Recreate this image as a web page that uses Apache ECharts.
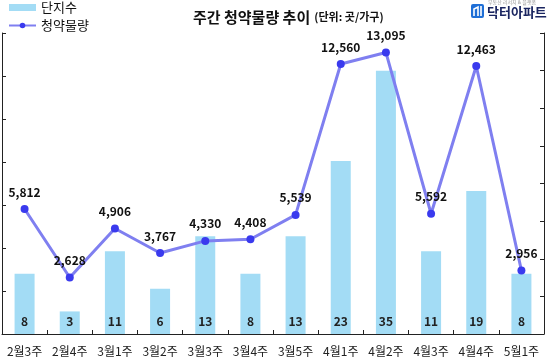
<!DOCTYPE html>
<html><head><meta charset="utf-8">
<script src="https://cdn.jsdelivr.net/npm/echarts@6/dist/echarts.min.js"></script>
<style>html,body{margin:0;padding:0;background:#fff}#c{width:548px;height:359px}</style>
</head><body><div id="c"></div>
<script>
const categories = ['2월3주','2월4주','3월1주','3월2주','3월3주','3월4주','3월5주','4월1주','4월2주','4월3주','4월4주','5월1주'];
const complexCount = [8, 3, 11, 6, 13, 8, 13, 23, 35, 11, 19, 8];
const supplyUnits = [5812, 2628, 4906, 3767, 4330, 4408, 5539, 12560, 13095, 5592, 12463, 2956];
const FONT = '"Noto Sans CJK KR", "Noto Sans", sans-serif';
const chart = echarts.init(document.getElementById('c'));
const axisCommon = {
  axisLine: {show: true, lineStyle: {color: '#222', width: 1}},
  axisTick: {show: true, inside: true, length: 4, lineStyle: {color: '#222'}},
  axisLabel: {show: false},
  splitLine: {show: false}
};
chart.setOption({
  animation: false,
  textStyle: {fontFamily: FONT},
  title: {
    text: '{a|주간 청약물량 추이} {b|(단위: 곳/가구)}',
    left: 188, top: 3,
    textStyle: {rich: {
      a: {fontSize: 15, fontWeight: 'bold', color: '#111', fontFamily: FONT},
      b: {fontSize: 11, color: '#111', fontFamily: FONT}
    }}
  },
  legend: {
    orient: 'vertical', left: 3, top: -4, itemWidth: 27, itemHeight: 7, itemGap: 5,
    textStyle: {fontSize: 13, color: '#111', fontFamily: FONT},
    data: [{name: '단지수', icon: 'rect'}, {name: '청약물량'}]
  },
  grid: {left: 2, right: 4, top: 33, bottom: 25, containLabel: false},
  xAxis: {
    type: 'category', data: categories, boundaryGap: true,
    axisLine: {lineStyle: {color: '#222'}},
    axisTick: {show: true, inside: true, length: 4, lineStyle: {color: '#222'}},
    axisLabel: {fontSize: 12, color: '#222', margin: 11, interval: 0, fontFamily: FONT}
  },
  yAxis: [
    Object.assign({type: 'value', min: 0, max: 14000, interval: 2000, position: 'left'}, axisCommon),
    Object.assign({type: 'value', min: 0, max: 40, interval: 5, position: 'right'}, axisCommon)
  ],
  series: [
    {
      name: '단지수', type: 'bar', yAxisIndex: 1, data: complexCount, barWidth: 20,
      itemStyle: {color: '#a3dcf5'},
      label: {show: true, position: 'insideBottom', distance: 7, fontSize: 12, fontWeight: 'bold', color: '#222', fontFamily: FONT}
    },
    {
      name: '청약물량', type: 'line', yAxisIndex: 0, data: supplyUnits,
      symbol: 'circle', symbolSize: 8,
      itemStyle: {color: '#3a3aee'},
      lineStyle: {color: '#7f7ff0', width: 3},
      label: {show: true, position: 'top', distance: 7, fontSize: 12, fontWeight: 'bold', color: '#111', fontFamily: FONT,
        formatter: p => p.value.toLocaleString('en-US')}
    }
  ],
  graphic: [
    {type: 'rect', shape: {x: 471, y: 4, width: 13, height: 14, r: 2}, style: {fill: '#1f6fd6'}},
    {type: 'polyline', shape: {points: [[474,16],[474,9],[478,7],[478,16]]}, style: {stroke: '#fff', lineWidth: 1.6, fill: null}},
    {type: 'line', shape: {x1: 481, y1: 6, x2: 481, y2: 16}, style: {stroke: '#fff', lineWidth: 1.6}},
    {type: 'text', left: 488, top: 0, style: {text: '부동산 리서치 & 플랫폼', fontSize: 5, fill: '#999', fontFamily: FONT}},
    {type: 'text', left: 487, top: 6, style: {text: '닥터아파트', fontSize: 13, fontWeight: 'bold', fill: '#1a2560', fontFamily: FONT}}
  ]
});
</script></body></html>
